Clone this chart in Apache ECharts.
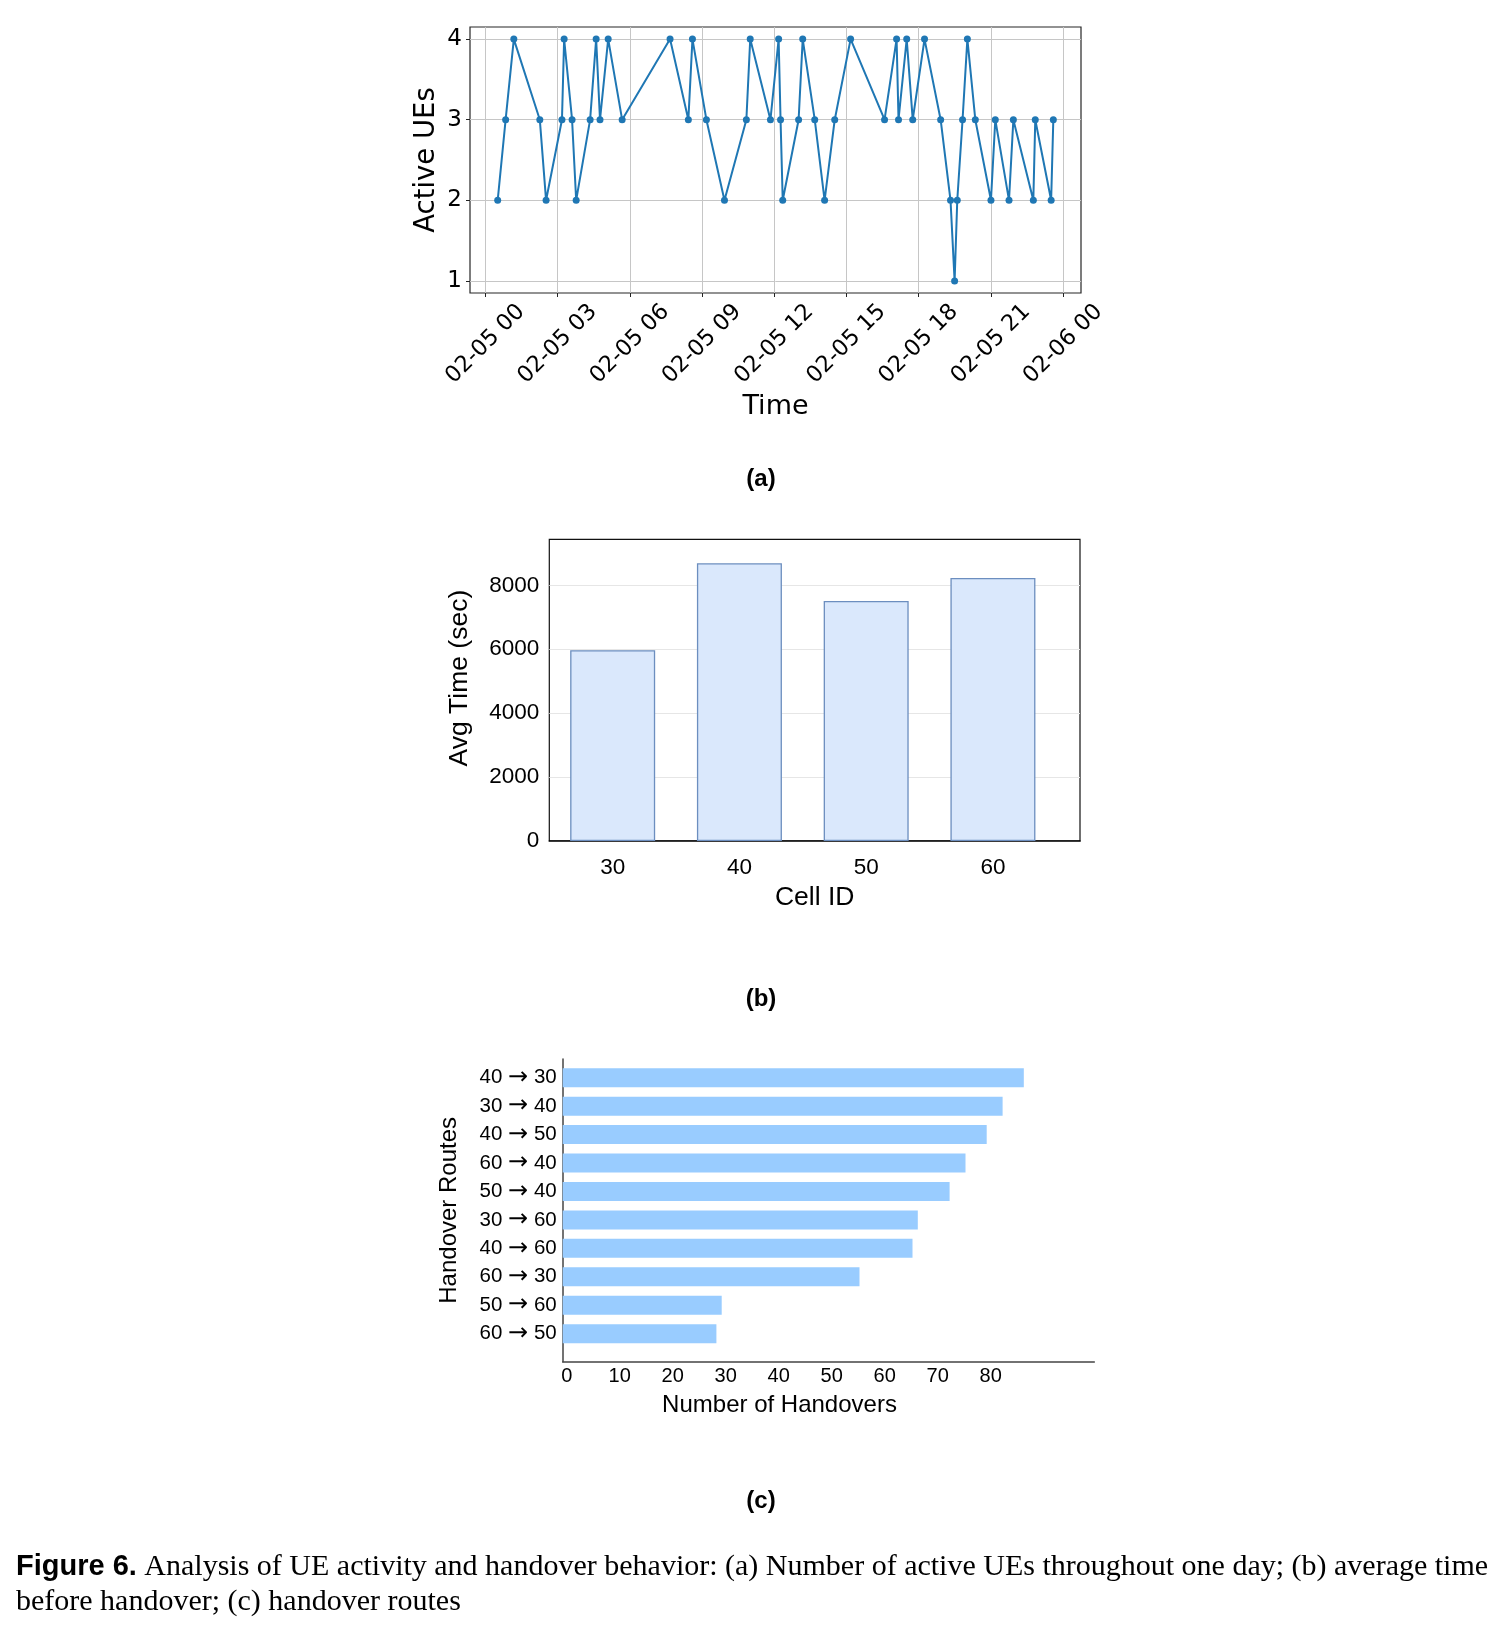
<!DOCTYPE html>
<html>
<head>
<meta charset="utf-8">
<script src="https://cdn.jsdelivr.net/npm/echarts@6/dist/echarts.min.js"></script>
<style>
  html, body { margin: 0; background: #fff; }
  #fig { width: 1502px; height: 1633px; }
</style>
</head>
<body>
<div id="fig"></div>
<script>
// (a) active UEs over one day; x is hours since 02-05 00:00
const hours = [
  0.51, 0.84, 1.18, 2.26, 2.52, 3.18, 3.27, 3.60, 3.77, 4.35, 4.60, 4.76, 5.10,
  5.68, 7.67, 8.43, 8.60, 9.18, 9.93, 10.84, 11.00, 11.84, 12.18, 12.26, 12.35,
  13.01, 13.18, 13.68, 14.09, 14.51, 15.17, 16.58, 17.08, 17.16, 17.50, 17.75,
  18.24, 18.91, 19.32, 19.49, 19.60, 19.82, 20.02, 20.35, 21.00, 21.18, 21.75,
  21.93, 22.76, 22.84, 23.50, 23.59,
];
const activeUEs = [
  2, 3, 4, 3, 2, 3, 4, 3, 2, 3, 4, 3, 4,
  3, 4, 3, 4, 3, 2, 3, 4, 3, 4, 3, 2,
  3, 4, 3, 2, 3, 4, 3, 4, 3, 4, 3,
  4, 3, 2, 1, 2, 3, 4, 3, 2, 3, 2,
  3, 2, 3, 2, 3,
];
const hourTicks = [0, 3, 6, 9, 12, 15, 18, 21, 24];
const ueTicks = [1, 2, 3, 4];

// (b) average time before handover per cell
const cellIds = [30, 40, 50, 60];
const avgTime = [5970, 8690, 7510, 8230];
const timeTicks = [0, 2000, 4000, 6000, 8000];

// (c) handover routes
const routes = [
  "40 → 30", "30 → 40", "40 → 50", "60 → 40", "50 → 40",
  "30 → 60", "40 → 60", "60 → 30", "50 → 60", "60 → 50",
];
const handovers = [87, 83, 80, 76, 73, 67, 66, 56, 30, 29];
const countTicks = [0, 10, 20, 30, 40, 50, 60, 70, 80];

const DV = "'DejaVu Sans', sans-serif";
const AR = "'Liberation Sans', Arial, sans-serif";
const BLUE = "#1f77b4";

const hourLabel = (h) => h >= 24 ? "02-06 00" : "02-05 " + String(h).padStart(2, "0");

const chart = echarts.init(document.getElementById("fig"), null, { renderer: "canvas" });

chart.setOption({
  animation: false,
  backgroundColor: "#fff",
  grid: [
    { left: 470, top: 27, width: 611, height: 266, show: true, borderColor: "#262626", borderWidth: 1.2 },
    { left: 549.3, top: 539.3, width: 530.7, height: 301.7, show: true, borderColor: "#111", borderWidth: 1.2 },
    { left: 562.7, top: 1063.5, width: 531.6, height: 284.4 },
    { left: 562.7, top: 1059, width: 531.6, height: 302.7 },
  ],
  xAxis: [
    {
      gridIndex: 0, type: "value", min: -0.64, max: 24.74,
      axisLine: { show: false, onZero: false },
      axisTick: { show: true, length: 4, customValues: hourTicks, lineStyle: { color: "#222" } },
      axisLabel: {
        customValues: hourTicks, formatter: hourLabel, rotate: 45,
        align: "center", verticalAlign: "middle", margin: 51,
        fontFamily: DV, fontSize: 22.5, color: "#000",
      },
      splitLine: { show: true, lineStyle: { color: "#c6c6c6", width: 1 } },
      name: "Time", nameLocation: "middle", nameGap: 100,
      nameTextStyle: { fontFamily: DV, fontSize: 27, color: "#000" },
    },
    {
      gridIndex: 1, type: "value", min: 25, max: 66.87,
      axisLine: { show: true, onZero: false, lineStyle: { color: "#000", width: 1.5 } },
      axisTick: { show: false, customValues: cellIds },
      axisLabel: { customValues: cellIds, margin: 15, fontFamily: AR, fontSize: 22.5, color: "#000" },
      splitLine: { show: false },
      name: "Cell ID", nameLocation: "middle", nameGap: 43,
      nameTextStyle: { fontFamily: AR, fontSize: 26.5, color: "#000" },
    },
    { gridIndex: 2, type: "value", min: 0, max: 100.3, show: false },
    {
      gridIndex: 3, type: "value", min: 0, max: 100.3,
      axisLine: { show: true, onZero: false, lineStyle: { color: "#444", width: 1.5 } },
      axisTick: { show: false, customValues: countTicks },
      axisLabel: {
        customValues: countTicks, margin: 5, padding: [0, 0, 0, 8],
        fontFamily: AR, fontSize: 20, color: "#000",
      },
      splitLine: { show: false },
      name: "Number of Handovers", nameLocation: "middle", nameGap: 32,
      nameTextStyle: { fontFamily: AR, fontSize: 24, color: "#000", padding: [0, 98, 0, 0] },
    },
  ],
  yAxis: [
    {
      gridIndex: 0, type: "value", min: 0.85, max: 4.15,
      axisLine: { show: false, onZero: false },
      axisTick: { show: true, length: 4, customValues: ueTicks, lineStyle: { color: "#222" } },
      axisLabel: { customValues: ueTicks, margin: 8, fontFamily: DV, fontSize: 23, color: "#000" },
      splitLine: { show: true, lineStyle: { color: "#c6c6c6", width: 1 } },
      name: "Active UEs", nameLocation: "middle", nameGap: 29,
      nameTextStyle: { fontFamily: DV, fontSize: 27.5, color: "#000" },
    },
    {
      gridIndex: 1, type: "value", min: 0, max: 9440,
      axisLine: { show: false, onZero: false },
      axisTick: { show: false, customValues: timeTicks },
      axisLabel: {
        customValues: timeTicks, formatter: (v) => String(v), margin: 10,
        fontFamily: AR, fontSize: 22.5, color: "#000",
      },
      splitLine: { show: true, lineStyle: { color: "#e6e6e6", width: 1.2 } },
      name: "Avg Time (sec)", nameLocation: "middle", nameGap: 76,
      nameTextStyle: { fontFamily: AR, fontSize: 26.5, color: "#000", padding: [0, 0, 0, 24] },
    },
    {
      gridIndex: 2, type: "category", data: routes, inverse: true,
      axisLine: { show: false }, axisTick: { show: false },
      axisLabel: {
        margin: 6, fontFamily: AR, fontSize: 20.5, color: "#000",
        formatter: (v) => v.replace("→", "{a|→}"),
        rich: { a: { fontFamily: DV, fontSize: 24, color: "#000" } },
      },
      splitLine: { show: false },
    },
    {
      gridIndex: 3, type: "value", min: 0, max: 1,
      axisLine: { show: true, onZero: false, lineStyle: { color: "#444", width: 1.5 } },
      axisTick: { show: false }, axisLabel: { show: false }, splitLine: { show: false },
      name: "Handover Routes", nameLocation: "middle", nameGap: 101,
      nameTextStyle: { fontFamily: AR, fontSize: 24, color: "#000" },
    },
  ],
  series: [
    {
      type: "line", xAxisIndex: 0, yAxisIndex: 0,
      data: hours.map((h, i) => [h, activeUEs[i]]),
      symbol: "circle", symbolSize: 7,
      lineStyle: { color: BLUE, width: 2 }, itemStyle: { color: BLUE },
    },
    {
      type: "bar", xAxisIndex: 1, yAxisIndex: 1,
      data: cellIds.map((c, i) => [c, avgTime[i]]),
      barWidth: 85,
      itemStyle: { color: "#dae8fc", borderColor: "#6c8ebf", borderWidth: 1.3 },
    },
    {
      type: "bar", xAxisIndex: 2, yAxisIndex: 2,
      data: handovers, barWidth: 19,
      itemStyle: { color: "#99ccff" },
    },
  ],
  graphic: [
    { type: "text", x: 761, y: 479, style: { text: "(a)", align: "center", verticalAlign: "middle", font: "bold 24px " + AR, fill: "#000" } },
    { type: "text", x: 761, y: 999, style: { text: "(b)", align: "center", verticalAlign: "middle", font: "bold 24px " + AR, fill: "#000" } },
    { type: "text", x: 761, y: 1501, style: { text: "(c)", align: "center", verticalAlign: "middle", font: "bold 24px " + AR, fill: "#000" } },
    {
      type: "text", x: 16, y: 1549,
      style: {
        text: "{b|Figure 6.} Analysis of UE activity and handover behavior: (a) Number of active UEs throughout one day; (b) average time\nbefore handover; (c) handover routes",
        font: "30px 'Liberation Serif', 'Times New Roman', serif",
        lineHeight: 35.5, fill: "#000",
        rich: { b: { font: "bold 29px " + AR, lineHeight: 35.5 } },
      },
    },
  ],
});
</script>
</body>
</html>
